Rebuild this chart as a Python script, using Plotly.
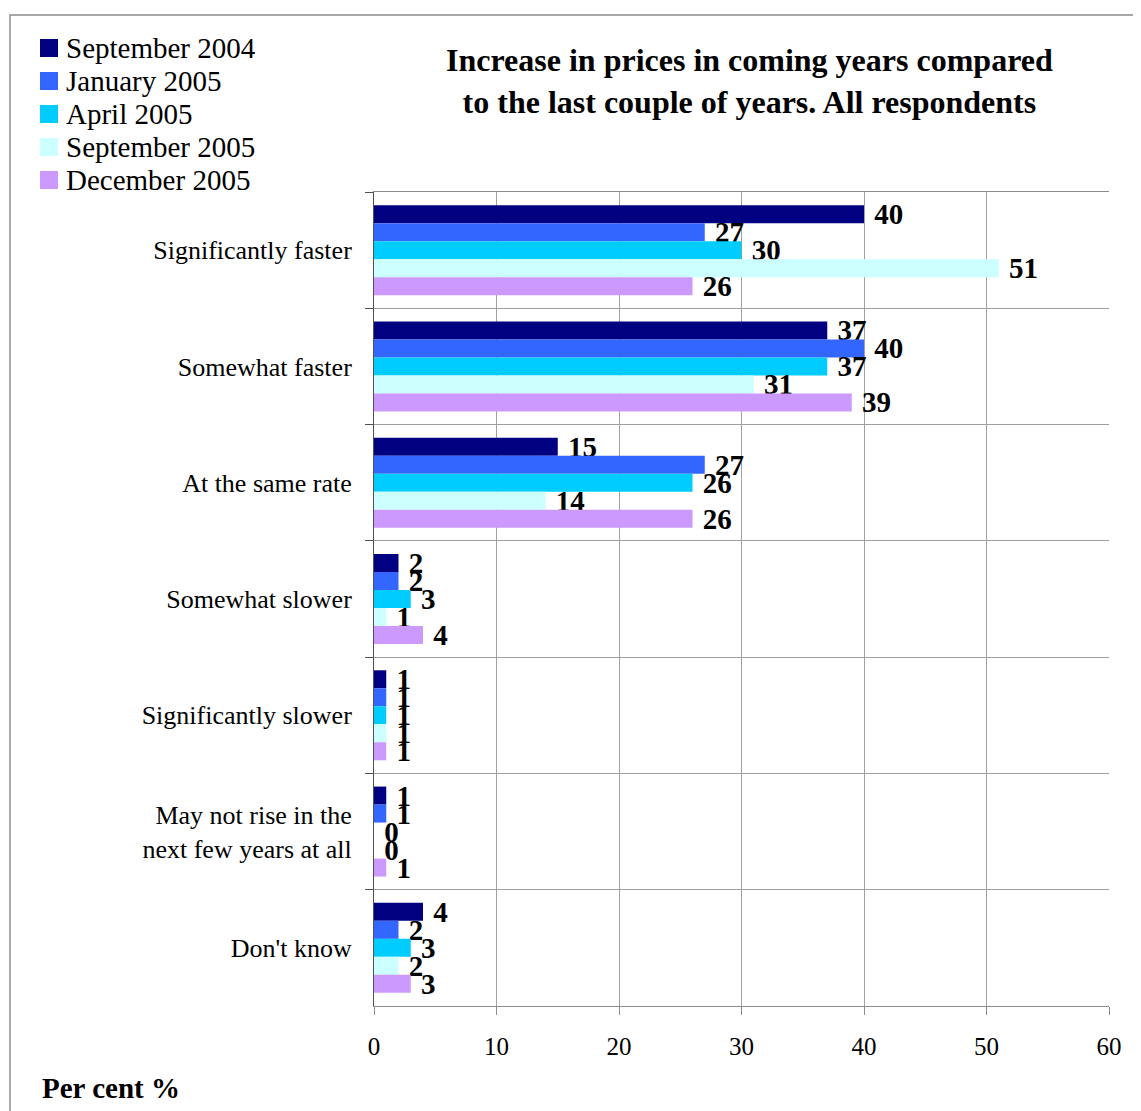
import plotly.graph_objects as go

categories = ["Significantly faster", "Somewhat faster", "At the same rate",
              "Somewhat slower", "Significantly slower",
              "May not rise in the<br>next few years at all", "Don't know"]
series_names = ["September 2004", "January 2005", "April 2005",
                "September 2005", "December 2005"]
sep2004 = [40, 37, 15, 2, 1, 1, 4]
jan2005 = [27, 40, 27, 2, 1, 1, 2]
apr2005 = [30, 37, 26, 3, 1, 0, 3]
sep2005 = [51, 31, 14, 1, 1, 0, 2]
dec2005 = [26, 39, 26, 4, 1, 1, 3]
x_ticks = [0, 10, 20, 30, 40, 50, 60]
colors = ["#000080", "#3366FF", "#00CCFF", "#CCFFFF", "#CC99FF"]
title_text = "Increase in prices in coming years compared<br>to the last couple of years. All respondents"
unit_label = "Per cent %"

FONT = "Liberation Serif"
OFF = 8  # default body margin of the html page
W, H = 1141 - OFF, 1111 - OFF
L, R, T, B = 374, 1109, 192, 1006  # plot area in page pixels

def px(x):
    return (x - L) / (R - L)

def py(y):
    return (B - y) / (B - T)

fig = go.Figure()
for name, vals, col in zip(series_names, [sep2004, jan2005, apr2005, sep2005, dec2005], colors):
    fig.add_trace(go.Bar(
        y=categories, x=vals, name=name, orientation="h",
        marker=dict(color=col, line=dict(width=0)),
        text=vals, texttemplate=" %{x}", textposition="outside",
        textfont=dict(family=FONT, size=29, color="black", weight="bold"),
        constraintext="none", cliponaxis=False, showlegend=False,
    ))

shapes = [dict(type="rect", xref="paper", yref="paper",
               x0=px(10), x1=px(1170), y0=py(15), y1=py(1140),
               line=dict(color="#8c8c8c", width=1.5), layer="below")]
annotations = []
for i, (name, col) in enumerate(zip(series_names, colors)):
    cy = 48 + 33 * i
    shapes.append(dict(type="rect", xref="paper", yref="paper",
                       x0=px(40), x1=px(58), y0=py(cy - 9), y1=py(cy + 9),
                       fillcolor=col, line=dict(width=0)))
    annotations.append(dict(xref="paper", yref="paper", x=px(64), y=py(cy),
                            xanchor="left", yanchor="middle", showarrow=False,
                            text=name, font=dict(family=FONT, size=29, color="black")))

annotations.append(dict(xref="paper", yref="paper", x=px(749), y=py(81),
                        xanchor="center", yanchor="middle", showarrow=False,
                        text="<b>" + title_text + "</b>", align="center",
                        font=dict(family=FONT, size=32, color="black")))
annotations.append(dict(xref="paper", yref="paper", x=px(40), y=py(1088),
                        xanchor="left", yanchor="middle", showarrow=False,
                        text="<b>" + unit_label + "</b>",
                        font=dict(family=FONT, size=29, color="black")))

fig.update_layout(
    width=W, height=H,
    margin=dict(l=L - OFF, r=W - (R - OFF), t=T - OFF, b=H - (B - OFF)),
    paper_bgcolor="white", plot_bgcolor="white",
    barmode="group", bargap=0.226, bargroupgap=0,
    font=dict(family=FONT, color="black"),
    shapes=shapes, annotations=annotations,
    xaxis=dict(range=[0, 60], tickvals=x_ticks, showgrid=True, gridcolor="#a0a0a0",
               gridwidth=1, zeroline=False, showline=True, linecolor="#8c8c8c",
               mirror=True, ticks="outside", ticklen=8, tickcolor="#8c8c8c",
               tickfont=dict(family=FONT, size=25, color="black"),
               ticklabelstandoff=10),
    yaxis=dict(autorange="reversed", tickson="boundaries", showgrid=True,
               gridcolor="#a0a0a0", gridwidth=1, showline=True, linecolor="#505050",
               ticks="outside", ticklen=8, tickcolor="#505050",
               tickfont=dict(family=FONT, size=26, color="black"),
               ticklabelstandoff=16),
)

fig.write_html("out.html")
